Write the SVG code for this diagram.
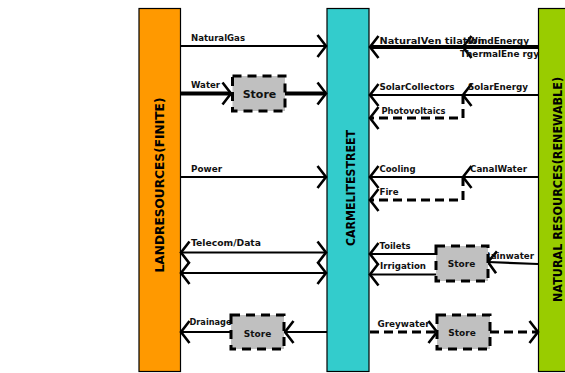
<svg xmlns="http://www.w3.org/2000/svg" width="565" height="373" viewBox="0 0 565 373">
  <style>
    .bar { stroke: #000; stroke-width: 1.2; }
    .barlabel { font-family: "DejaVu Sans", "Liberation Sans", sans-serif; font-weight: bold; font-size: 13px; fill: #000; }
    .store rect { fill: #C0C0C0; stroke: #000; stroke-width: 3; stroke-dasharray: 9 6; }
    .store text { font-family: "DejaVu Sans", "Liberation Sans", sans-serif; font-weight: bold; font-size: 9px; fill: #111; text-anchor: middle; }
    .ln { fill: none; stroke: #000; stroke-width: 2.2; marker-end: url(#chev); }
    .thick { stroke-width: 4; }
    .dash { stroke-width: 3; stroke-dasharray: 9 5; }
    .both { marker-start: url(#chev); }
    .lbl { font-family: "DejaVu Sans", "Liberation Sans", sans-serif; font-weight: bold; font-size: 8.5px; fill: #111; }
  </style>
  <defs>
    <marker id="chev" viewBox="0 0 14 24" refX="11" refY="12" markerWidth="14" markerHeight="24" markerUnits="userSpaceOnUse" orient="auto-start-reverse" overflow="visible">
      <path d="M2.5,1 L11,12 L2.5,23" fill="none" stroke="#000" stroke-width="2.6" stroke-dasharray="none"/>
    </marker>
  </defs>

  <rect width="565" height="373" fill="#fff"/>

  <!-- main resource bars -->
  <g id="land-resources">
    <rect class="bar" x="139" y="8.5" width="41.5" height="363" fill="#FF9900"/>
    <text class="barlabel" transform="translate(164,185) rotate(-90)" text-anchor="middle" textLength="175" lengthAdjust="spacingAndGlyphs">LANDRESOURCES(FINITE)</text>
  </g>
  <g id="carmelite-street">
    <rect class="bar" x="327" y="8.5" width="42" height="363" fill="#33CCCC"/>
    <text class="barlabel" transform="translate(355,188) rotate(-90)" text-anchor="middle" textLength="116" lengthAdjust="spacingAndGlyphs">CARMELITESTREET</text>
  </g>
  <g id="natural-resources">
    <rect class="bar" x="538.5" y="8.5" width="42" height="363" fill="#99CC00"/>
    <text class="barlabel" transform="translate(562,189.5) rotate(-90)" text-anchor="middle" textLength="225" lengthAdjust="spacingAndGlyphs" style="font-size:12px">NATURAL RESOURCES(RENEWABLE)</text>
  </g>

  <!-- connectors -->
  <g id="connectors">
    <path class="ln" d="M181,46 H326"/>
    <path class="ln thick" d="M181,93.5 H231"/>
    <path class="ln thick" d="M285,93.5 H326"/>
    <path class="ln" d="M181,177 H326"/>
    <path class="ln both" d="M181,252.5 H326"/>
    <path class="ln both" d="M181,273 H326"/>
    <path class="ln" d="M327,332 H285"/>
    <path class="ln" d="M231,332 H181"/>

    <path class="ln thick" d="M538,47 H463"/>
    <path class="ln thick" d="M463,47 H370"/>
    <path class="ln" d="M538,95 H463"/>
    <path class="ln" d="M463,95 H370"/>
    <path class="ln dash" d="M463,95 V118 H370"/>
    <path class="ln" d="M538,177 H463"/>
    <path class="ln" d="M463,177 H370"/>
    <path class="ln dash" d="M463,177 V200 H370"/>
    <path class="ln" d="M538,264 L488,262"/>
    <path class="ln" d="M436,254 H370"/>
    <path class="ln" d="M436,274.5 H370"/>
    <path class="ln dash" d="M370,332 H437"/>
    <path class="ln dash" d="M490,332 H538"/>

    <text class="lbl" x="191" y="40.5" textLength="54" lengthAdjust="spacingAndGlyphs">NaturalGas</text>
    <text class="lbl" x="191" y="88" textLength="29" lengthAdjust="spacingAndGlyphs">Water</text>
    <text class="lbl" x="191" y="171.5" textLength="31" lengthAdjust="spacingAndGlyphs">Power</text>
    <text class="lbl" x="191" y="246" textLength="70" lengthAdjust="spacingAndGlyphs">Telecom/Data</text>
    <text class="lbl" x="189.5" y="324.5" textLength="42" lengthAdjust="spacingAndGlyphs">Drainage</text>

    <text class="lbl" x="379.5" y="43.5" textLength="105" lengthAdjust="spacingAndGlyphs">NaturalVen tilation</text>
    <text class="lbl" x="468" y="43.5" textLength="61" lengthAdjust="spacingAndGlyphs">WindEnergy</text>
    <text class="lbl" x="460" y="57" textLength="79" lengthAdjust="spacingAndGlyphs">ThermalEne rgy</text>
    <text class="lbl" x="379.5" y="89.5" textLength="75" lengthAdjust="spacingAndGlyphs">SolarCollectors</text>
    <text class="lbl" x="468" y="89.5" textLength="60" lengthAdjust="spacingAndGlyphs">SolarEnergy</text>
    <text class="lbl" x="381.5" y="113.5" textLength="64" lengthAdjust="spacingAndGlyphs">Photovoltaics</text>
    <text class="lbl" x="379.5" y="171.5" textLength="36" lengthAdjust="spacingAndGlyphs">Cooling</text>
    <text class="lbl" x="470" y="171.5" textLength="57" lengthAdjust="spacingAndGlyphs">CanalWater</text>
    <text class="lbl" x="379.5" y="195" textLength="19" lengthAdjust="spacingAndGlyphs">Fire</text>
    <text class="lbl" x="379.5" y="248.5" textLength="31" lengthAdjust="spacingAndGlyphs">Toilets</text>
    <text class="lbl" x="380" y="268.5" textLength="46" lengthAdjust="spacingAndGlyphs">Irrigation</text>
    <text class="lbl" x="484" y="258.5" textLength="50" lengthAdjust="spacingAndGlyphs">Rainwater</text>
    <text class="lbl" x="377.5" y="326.5" textLength="52" lengthAdjust="spacingAndGlyphs">Greywater</text>
  </g>

  <!-- storage tanks -->
  <g id="store-water" class="store">
    <rect x="232.5" y="76" width="52.5" height="35"/>
    <text x="259.5" y="98" style="font-size:11px">Store</text>
  </g>
  <g id="store-rainwater" class="store">
    <rect x="436" y="246" width="52" height="35"/>
    <text x="461.5" y="266.5">Store</text>
  </g>
  <g id="store-greywater" class="store">
    <rect x="437" y="315" width="53" height="34"/>
    <text x="462" y="336">Store</text>
  </g>
  <g id="store-drainage" class="store">
    <rect x="231" y="315" width="53" height="34"/>
    <text x="257.5" y="336.5">Store</text>
  </g>
</svg>
